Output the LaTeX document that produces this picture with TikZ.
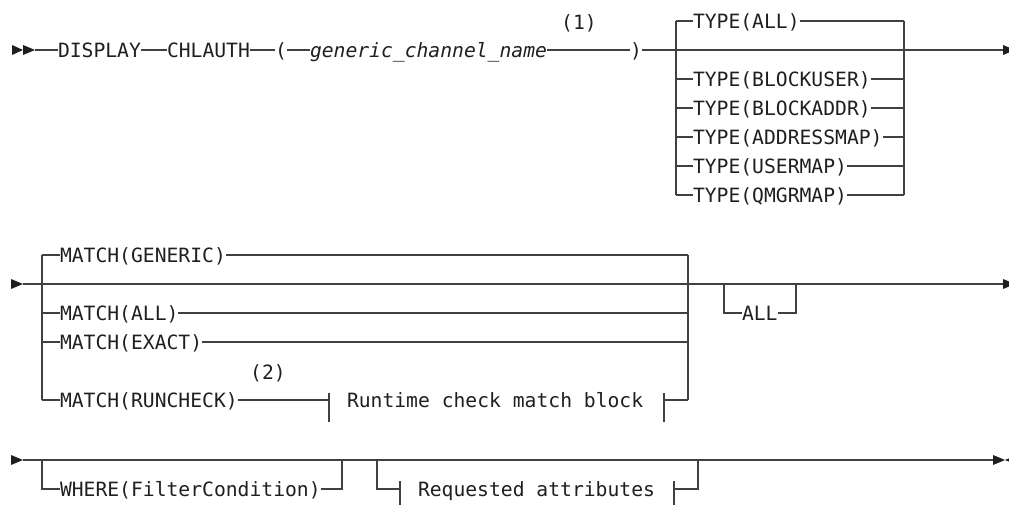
\documentclass[tikz,border=0pt]{standalone}
\usepackage{fontspec}
\newfontfamily\rr{DejaVu Sans Mono}[ItalicFont={DejaVu Sans Mono Oblique}]
\begin{document}
\begin{tikzpicture}[x=0.75pt,y=-0.75pt,
  rail/.style={line width=1pt,draw=black!75},
  kw/.style={inner sep=0pt,outer sep=0pt,text height=10.76pt,text depth=0pt,
    font=\rr\fontsize{14.76}{16}\selectfont,text=black!88,anchor=west},
  note/.style={kw,anchor=center},
  tip/.style={fill=black!88,draw=none}]
\useasboundingbox (0,0) rectangle (1009,505);
\clip (0,0) rectangle (1009,505);

% ---------- first rail: command, channel name, TYPE choice ----------
\fill[tip] (12,45) -- (12,55) -- (23,50) -- cycle;
\fill[tip] (23,45) -- (23,55) -- (35,50) -- cycle;
\coordinate (s1) at (35,50);
\coordinate (e1) at (1003,50);
\node[kw] (display) at (58,50) {DISPLAY};
\node[kw] (chlauth) at (167,50) {CHLAUTH};
\node[kw] (lpar) at (275,50) {(};
\node[kw] (gcn) at (310,50) {\itshape generic\_channel\_name};
\node[kw] (rpar) at (630,50) {)};
\node[note] (n1) at (579,22) {(1)};
\draw[rail] (s1) -- (display.west) (display.east) -- (chlauth.west)
  (chlauth.east) -- (lpar.west) (lpar.east) -- (gcn.west)
  (gcn.east) -- (rpar.west) (rpar.east) -- (e1);
\fill[tip] (1003,45) -- (1003,55) -- (1015,50) -- cycle;

% TYPE choice
\coordinate (tl) at (676,21);
\coordinate (bl) at (676,195);
\coordinate (tr) at (904,21);
\coordinate (br) at (904,195);
\draw[rail] (tl) -- (bl) (tr) -- (br);
\node[kw] (tall) at (693,21) {TYPE(ALL)};
\node[kw] (tbu) at (693,79) {TYPE(BLOCKUSER)};
\node[kw] (tba) at (693,108) {TYPE(BLOCKADDR)};
\node[kw] (tam) at (693,137) {TYPE(ADDRESSMAP)};
\node[kw] (tum) at (693,166) {TYPE(USERMAP)};
\node[kw] (tqm) at (693,195) {TYPE(QMGRMAP)};
\foreach \n in {tall,tbu,tba,tam,tum,tqm}
  \draw[rail] (\n.west -| tl) -- (\n.west) (\n.east) -- (\n.east -| tr);

% ---------- second rail: MATCH choice and ALL ----------
\fill[tip] (11,279) -- (11,289) -- (23,284) -- cycle;
\coordinate (s2) at (23,284);
\coordinate (e2) at (1003,284);
\draw[rail] (s2) -- (e2);
\fill[tip] (1003,279) -- (1003,289) -- (1015,284) -- cycle;

\coordinate (mtl) at (42,255);
\coordinate (mbl) at (42,400);
\coordinate (mtr) at (688,255);
\coordinate (mbr) at (688,400);
\draw[rail] (mtl) -- (mbl) (mtr) -- (mbr);
\node[kw] (mgen) at (60,255) {MATCH(GENERIC)};
\node[kw] (mall) at (60,313) {MATCH(ALL)};
\node[kw] (mexa) at (60,342) {MATCH(EXACT)};
\node[kw] (mrun) at (60,400) {MATCH(RUNCHECK)};
\node[note] (n2) at (268,372) {(2)};
\foreach \n in {mgen,mall,mexa}
  \draw[rail] (\n.west -| mtl) -- (\n.west) (\n.east) -- (\n.east -| mtr);
\draw[rail] (mrun.west -| mtl) -- (mrun.west);

% runtime check block reference
\coordinate (rb1) at (329,400);
\coordinate (rb2) at (664,400);
\node[kw] (rtime) at (347,400) {Runtime check match block};
\draw[rail] (mrun.east) -- (rb1);
\draw[rail] (329,393) -- (329,422) (664,393) -- (664,422);
\draw[rail] (rb2) -- (mbr);

% optional ALL
\node[kw] (oall) at (742,313) {ALL};
\draw[rail] (724,284) |- (oall.west) (oall.east) -| (796,284);

% ---------- third rail: WHERE and requested attributes ----------
\fill[tip] (11,455) -- (11,465) -- (23,460) -- cycle;
\coordinate (s3) at (23,460);
\coordinate (e3) at (993,460);
\draw[rail] (s3) -- (e3);
\fill[tip] (993,455) -- (993,465) -- (1005,460) -- cycle;
\fill[tip] (1017,455) -- (1017,465) -- (1005,460) -- cycle;

\node[kw] (where) at (60,489) {WHERE(FilterCondition)};
\draw[rail] (42,460) |- (where.west) (where.east) -| (342,460);

\coordinate (ra1) at (400,489);
\coordinate (ra2) at (674,489);
\node[kw] (reqa) at (418,489) {Requested attributes};
\draw[rail] (377,460) |- (ra1);
\draw[rail] (400,481) -- (400,512) (674,481) -- (674,512);
\draw[rail] (ra2) -| (698,460);
\end{tikzpicture}
\end{document}
